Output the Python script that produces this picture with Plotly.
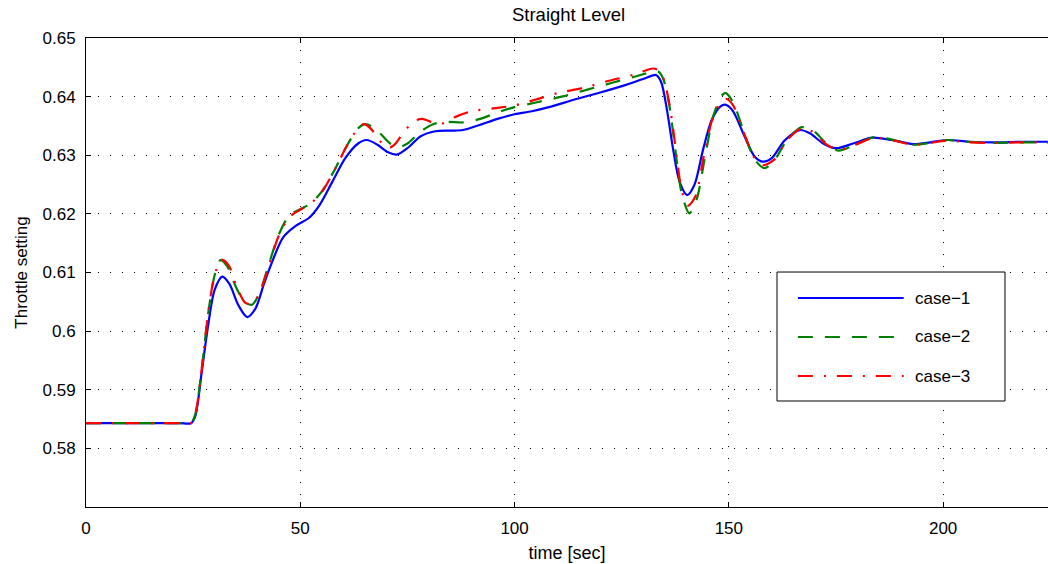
import plotly.graph_objects as go

# ---- data ----
t1 = [0, 6, 12, 18, 22, 24.5, 25.5, 27, 28.5, 30, 31.8, 33.5, 35.5, 37.6, 39.5, 41.5, 43, 46, 49,
      52, 54.5, 57.5, 60.5, 63.5, 65.5, 68, 70.5, 72.5, 75, 78, 81.5, 85, 88, 92, 96, 100, 104,
      108, 114, 120, 126, 130, 133, 134.2, 135.5, 137, 138.5, 140.3, 142, 144, 146, 148, 149.3,
      151, 153.5, 156, 158, 160, 163, 166.5, 169, 172, 175, 179, 183.5, 188, 193, 197, 201, 206,
      212, 218, 224.5]
case1 = [0.5843, 0.5843, 0.5843, 0.5843, 0.5843, 0.5843, 0.5855, 0.5930, 0.6010, 0.6070, 0.6093,
         0.6080, 0.6045, 0.6024, 0.6038, 0.6080, 0.6110, 0.6160, 0.6180, 0.6193, 0.6215, 0.6255,
         0.6295, 0.6320, 0.6326, 0.6318, 0.6305, 0.6301, 0.6312, 0.6332, 0.6341, 0.6342, 0.6343,
         0.6352, 0.6362, 0.6370, 0.6375, 0.6382, 0.6395, 0.6407, 0.6420, 0.6430, 0.6437, 0.6425,
         0.6380, 0.6310, 0.6255, 0.6232, 0.6250, 0.6310, 0.6360, 0.6383, 0.6386, 0.6375, 0.6335,
         0.6298, 0.6289, 0.6295, 0.6325, 0.6343, 0.6337, 0.6320, 0.6312, 0.6320, 0.6330, 0.6326,
         0.6319, 0.6322, 0.6326, 0.6323, 0.6322, 0.6323, 0.6323]

t2 = [0, 6, 12, 18, 22, 24.5, 25.5, 27, 28.5, 30, 31.4, 33, 35, 37, 38.7, 40.5, 42.5, 45, 47.5,
      50, 52.5, 55, 58, 61, 63.5, 65, 66.5, 68.5, 71, 73, 75, 78, 81, 84, 88, 92, 96, 100, 105,
      111, 117, 123, 128, 132, 133.5, 134.6, 136, 137.5, 139, 140.8, 142.5, 144.5, 146.5, 148.5,
      149.3, 151, 153.5, 156, 158.3, 160.5, 163.5, 167, 170, 172.5, 175.5, 179.5, 184, 188.5, 193,
      197, 201, 206, 212, 218, 224.5]
case2 = [0.5843, 0.5843, 0.5843, 0.5843, 0.5843, 0.5843, 0.5858, 0.5935, 0.6030, 0.6095, 0.6121,
         0.6110, 0.6075, 0.6050, 0.6045, 0.6065, 0.6110, 0.6165, 0.6198, 0.6208, 0.6218, 0.6238,
         0.6275, 0.6318, 0.6346, 0.6353, 0.6350, 0.6338, 0.6320, 0.6314, 0.6320, 0.6340, 0.6353,
         0.6357, 0.6356, 0.6362, 0.6373, 0.6382, 0.6390, 0.6400, 0.6412, 0.6424, 0.6434, 0.6442,
         0.6443, 0.6432, 0.6390, 0.6310, 0.6235, 0.6201, 0.6225, 0.6300, 0.6370, 0.6403, 0.6406,
         0.6390, 0.6340, 0.6293, 0.6278, 0.6290, 0.6325, 0.6348, 0.6340, 0.6322, 0.6308, 0.6318,
         0.6331, 0.6326, 0.6318, 0.6321, 0.6326, 0.6323, 0.6321, 0.6322, 0.6322]

t3 = [0, 6, 12, 18, 22, 24.5, 25.5, 27, 28.5, 30, 31.6, 33.3, 35.2, 37.2, 38.8, 40.5, 42.5, 45,
      47.5, 50, 52.5, 55, 58, 61, 63.5, 64.8, 66.5, 68.5, 70.5, 72, 74, 76.5, 78.5, 80.5, 83, 86,
      90, 95, 100, 105, 110, 116, 122, 128, 132.3, 133.8, 134.9, 136.3, 137.8, 139, 140.5, 142.2,
      144.2, 146.3, 148.5, 149.5, 151, 153.5, 156, 158, 160.5, 163.5, 167, 170, 172.5, 175.5,
      179.5, 184, 188.5, 193, 197, 201, 206, 212, 218, 224.5]
case3 = [0.5843, 0.5843, 0.5843, 0.5843, 0.5843, 0.5843, 0.5858, 0.5935, 0.6030, 0.6095, 0.6122,
         0.6112, 0.6075, 0.6048, 0.6046, 0.6065, 0.6108, 0.6163, 0.6195, 0.6207, 0.6218, 0.6237,
         0.6275, 0.6318, 0.6346, 0.6353, 0.6345, 0.6325, 0.6312, 0.6318, 0.6338, 0.6358, 0.6362,
         0.6357, 0.6354, 0.6365, 0.6375, 0.6380, 0.6385, 0.6395, 0.6406, 0.6415, 0.6427, 0.6438,
         0.6448, 0.6444, 0.6428, 0.6380, 0.6300, 0.6240, 0.6214, 0.6230, 0.6300, 0.6365, 0.6394,
         0.6396, 0.6385, 0.6338, 0.6295, 0.6283, 0.6292, 0.6325, 0.6346, 0.6338, 0.6320, 0.6309,
         0.6318, 0.6330, 0.6325, 0.6318, 0.6321, 0.6325, 0.6322, 0.6321, 0.6322, 0.6322]

names = ["case\u22121", "case\u22122", "case\u22123"]
colors = ["#0000FF", "#008000", "#FF0000"]
dashes = ["solid", "15px,12px", "15px,11px,2px,11px"]

x_ticks = [0, 50, 100, 150, 200]
y_ticks = [0.58, 0.59, 0.60, 0.61, 0.62, 0.63, 0.64, 0.65]
y_labels = ["0.58", "0.59", "0.6", "0.61", "0.62", "0.63", "0.64", "0.65"]

FONT = "Liberation Sans, Arial, Helvetica, sans-serif"

fig = go.Figure()
for tx, ys, nm, c, d in zip([t1, t2, t3], [case1, case2, case3], names, colors, dashes):
    fig.add_trace(go.Scatter(x=tx, y=ys, mode="lines", name=nm, showlegend=False,
                             line=dict(color=c, width=2.2, dash=d, shape="spline", smoothing=0.8)))

# custom MATLAB-style legend (box, long samples, text)
lx0, lx1, ly0, ly1 = 0.7183, 0.9553, 0.226, 0.501
shapes = [dict(type="rect", xref="paper", yref="paper", x0=lx0, x1=lx1, y0=ly0, y1=ly1,
               line=dict(color="black", width=1), fillcolor="white", layer="above")]
annotations = []
item_y = [0.4456, 0.3625, 0.2793]
for yy, nm, c, d in zip(item_y, names, colors, dashes):
    shapes.append(dict(type="line", xref="paper", yref="paper", x0=0.740, x1=0.850, y0=yy, y1=yy,
                       line=dict(color=c, width=2.2, dash=d), layer="above"))
    annotations.append(dict(xref="paper", yref="paper", x=0.8595, y=yy, text=nm, showarrow=False,
                            xanchor="left", yanchor="middle", font=dict(size=17, color="black", family=FONT)))

fig.update_layout(
    width=1048, height=564,
    margin=dict(l=86, r=0, t=38, b=57),
    paper_bgcolor="white", plot_bgcolor="white",
    font=dict(family=FONT, size=17, color="black"),
    title=dict(text="Straight Level", x=0.5425, xanchor="center", y=0.975, yanchor="middle",
               font=dict(size=18.5, family=FONT, color="black")),
    shapes=shapes, annotations=annotations,
)
fig.update_xaxes(range=[0, 224.47], tickvals=x_ticks, ticktext=[str(v) for v in x_ticks],
                 showline=True, linecolor="black", linewidth=1, mirror="ticks",
                 ticks="inside", ticklen=5, tickcolor="black",
                 showgrid=True, gridcolor="black", gridwidth=1, griddash="1px,11px",
                 zeroline=False, ticklabelstandoff=6,
                 title=dict(text="time [sec]", standoff=8, font=dict(size=18)))
fig.update_yaxes(range=[0.57, 0.65], tickvals=y_ticks, ticktext=y_labels,
                 showline=True, linecolor="black", linewidth=1,
                 ticks="inside", ticklen=5, tickcolor="black",
                 showgrid=True, gridcolor="black", gridwidth=1, griddash="1px,11px",
                 zeroline=False, ticklabelstandoff=6,
                 title=dict(text="Throttle setting", standoff=10, font=dict(size=17)))

fig.write_html("out.html")
